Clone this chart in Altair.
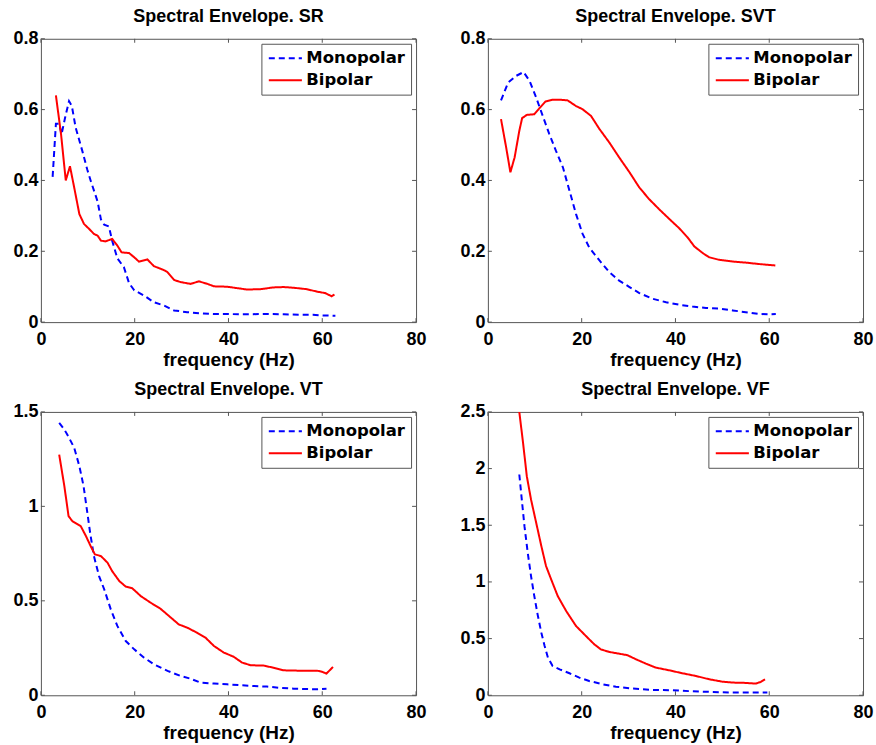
import altair as alt
import pandas as pd

# ---------------- data ----------------
SERIES = ["Monopolar", "Bipolar"]
COLORS = ["#0000ff", "#ff0000"]
X_TICKS = [0, 20, 40, 60, 80]

# SR
sr_mono_f = [2.5, 3.2, 3.9, 4.4, 5.2, 6.0, 6.6, 7.4, 8.9, 9.9, 10.6, 12.1, 12.8, 13.5, 14.5, 15.2, 16.3, 17.7,
             18.8, 19.9, 22.0, 24.1, 26.2, 28.4, 31.2, 34.0, 36.9, 39.7, 42.6, 48.2, 51.8, 55.3, 58.0, 59.6, 62.8]
sr_mono_v = [0.41, 0.56, 0.56, 0.53, 0.58, 0.624, 0.61, 0.55, 0.48, 0.43, 0.40, 0.34, 0.29, 0.275, 0.27, 0.23,
             0.18, 0.155, 0.11, 0.09, 0.075, 0.056, 0.047, 0.033, 0.028, 0.025, 0.023, 0.023, 0.022, 0.023, 0.022,
             0.021, 0.021, 0.019, 0.018]
sr_bi_f = [3.2, 4.3, 5.3, 6.2, 7.1, 8.2, 9.2, 10.3, 11.3, 12.1, 12.8, 13.8, 15.2, 16.3, 17.2, 18.8, 19.9, 20.9,
           22.7, 24.1, 26.2, 27.0, 28.4, 29.8, 31.9, 33.7, 35.5, 36.9, 39.7, 41.8, 44.0, 46.8, 49.6, 51.8, 53.9,
           56.7, 58.9, 60.6, 62.0, 62.6]
sr_bi_v = [0.64, 0.53, 0.40, 0.44, 0.38, 0.305, 0.277, 0.263, 0.249, 0.244, 0.23, 0.228, 0.235, 0.216, 0.197,
           0.195, 0.183, 0.171, 0.177, 0.158, 0.147, 0.141, 0.119, 0.113, 0.108, 0.115, 0.108, 0.101, 0.100,
           0.096, 0.092, 0.093, 0.098, 0.099, 0.097, 0.093, 0.086, 0.082, 0.073, 0.078]

# SVT
svt_mono_f = [2.8, 4.3, 6.0, 7.6, 8.9, 10.3, 11.7, 13.1, 14.5, 16.0, 17.4, 18.8, 20.2, 21.6, 23.8, 25.9, 28.0,
              30.2, 32.3, 35.1, 38.0, 40.8, 43.6, 46.5, 49.3, 52.2, 55.0, 57.8, 60.0, 61.4]
svt_mono_v = [0.626, 0.676, 0.695, 0.706, 0.681, 0.634, 0.582, 0.531, 0.484, 0.437, 0.371, 0.305, 0.249, 0.211,
              0.174, 0.141, 0.117, 0.099, 0.082, 0.066, 0.056, 0.049, 0.044, 0.040, 0.038, 0.033, 0.028, 0.023,
              0.022, 0.023]
svt_bi_f = [2.8, 3.9, 4.8, 5.7, 6.7, 7.3, 8.3, 9.9, 11.0, 12.3, 13.8, 15.3, 17.0, 18.8, 20.2, 22.0, 23.8, 25.9,
            28.0, 30.2, 32.3, 34.4, 36.5, 38.7, 40.8, 42.6, 44.0, 45.8, 47.2, 49.3, 52.2, 55.0, 57.8, 61.3]
svt_bi_v = [0.573, 0.493, 0.423, 0.465, 0.540, 0.576, 0.585, 0.587, 0.604, 0.623, 0.628, 0.628, 0.626, 0.610,
            0.601, 0.582, 0.545, 0.507, 0.465, 0.423, 0.380, 0.347, 0.319, 0.291, 0.265, 0.239, 0.214, 0.195,
            0.183, 0.176, 0.171, 0.168, 0.164, 0.160]

# VT
vt_mono_f = [3.9, 5.0, 6.0, 7.1, 8.2, 9.1, 9.8, 10.5, 11.3, 12.4, 13.5, 14.9, 16.3, 18.1, 19.9, 22.0, 24.1, 27.0,
             29.8, 31.9, 34.0, 36.9, 39.7, 42.6, 45.4, 48.2, 51.1, 53.9, 56.7, 58.9, 60.9]
vt_mono_v = [1.442, 1.407, 1.363, 1.310, 1.213, 1.107, 0.984, 0.860, 0.737, 0.631, 0.561, 0.455, 0.367, 0.287,
             0.243, 0.199, 0.164, 0.129, 0.102, 0.088, 0.067, 0.062, 0.058, 0.053, 0.049, 0.046, 0.039, 0.035,
             0.033, 0.032, 0.035]
vt_bi_f = [3.9, 5.0, 5.9, 6.7, 8.5, 9.6, 10.6, 11.5, 12.8, 14.2, 15.2, 16.7, 18.1, 19.5, 21.3, 23.4, 25.5, 27.3,
           29.4, 31.2, 33.3, 35.1, 36.9, 39.0, 41.1, 42.9, 44.7, 47.5, 49.6, 51.8, 55.3, 58.9, 59.9, 60.9, 62.3]
vt_bi_v = [1.274, 1.107, 0.948, 0.922, 0.895, 0.843, 0.790, 0.746, 0.737, 0.702, 0.657, 0.605, 0.575, 0.566,
           0.525, 0.490, 0.458, 0.420, 0.375, 0.358, 0.331, 0.305, 0.261, 0.226, 0.204, 0.173, 0.159, 0.157,
           0.146, 0.132, 0.130, 0.130, 0.125, 0.115, 0.150]

# VF
vf_mono_f = [6.7, 7.3, 7.8, 8.5, 9.2, 9.9, 10.6, 11.4, 12.1, 12.8, 13.8, 15.3, 17.4, 19.5, 21.6, 24.5, 27.3, 30.9,
             35.1, 39.4, 43.6, 47.9, 52.2, 56.4, 59.6]
vf_mono_v = [1.948, 1.698, 1.492, 1.257, 1.052, 0.875, 0.714, 0.552, 0.435, 0.332, 0.259, 0.229, 0.194, 0.156,
             0.126, 0.097, 0.076, 0.059, 0.047, 0.044, 0.035, 0.029, 0.024, 0.024, 0.024]
vf_bi_f = [6.7, 7.5, 8.3, 9.2, 10.3, 11.4, 12.4, 13.5, 14.9, 16.7, 18.8, 20.9, 22.7, 24.1, 25.9, 28.0, 29.8, 31.6,
           33.7, 35.8, 38.7, 41.5, 44.4, 47.2, 50.0, 52.2, 55.0, 57.1, 58.2, 59.1]
vf_bi_v = [2.50, 2.227, 1.933, 1.727, 1.522, 1.316, 1.140, 1.022, 0.875, 0.743, 0.611, 0.523, 0.449, 0.405, 0.382,
           0.367, 0.353, 0.317, 0.279, 0.244, 0.220, 0.194, 0.170, 0.141, 0.120, 0.112, 0.109, 0.103, 0.118, 0.141]

# ---------------- styling ----------------
FONT = "Liberation Sans"
LEG_FONT = "DejaVu Sans"
FRAME = "#555555"
W, H = 376, 284
TICK = 4
LABEL_EXPR = "datum.value + ''"


def panel(title, fm, vm, fb, vb, ymax, yticks):
    df = pd.DataFrame({
        "f": fm + fb,
        "v": vm + vb,
        "s": [SERIES[0]] * len(fm) + [SERIES[1]] * len(fb),
        "o": list(range(len(fm))) + list(range(len(fb))),
    })
    legend = alt.Legend(title=None, orient="top-right", offset=5)
    lines = alt.Chart(df).mark_line(strokeWidth=2, clip=True).encode(
        x=alt.X("f:Q", scale=alt.Scale(domain=[0, 80], nice=False, zero=False),
                axis=alt.Axis(values=X_TICKS, title="frequency (Hz)", labelExpr=LABEL_EXPR, labelFlush=False)),
        y=alt.Y("v:Q", scale=alt.Scale(domain=[0, ymax], nice=False, zero=False),
                axis=alt.Axis(values=yticks, title=None, labelExpr=LABEL_EXPR, labelFlush=False)),
        color=alt.Color("s:N", scale=alt.Scale(domain=SERIES, range=COLORS), legend=legend),
        strokeDash=alt.StrokeDash("s:N", scale=alt.Scale(domain=SERIES, range=[[6, 4], [1, 0]]), legend=legend),
        order="o:Q",
    )
    xt = pd.DataFrame({"f": X_TICKS})
    yt = pd.DataFrame({"v": yticks})
    xb = alt.Chart(xt).mark_rule(color=FRAME).encode(x="f:Q", y=alt.value(H), y2=alt.value(H - TICK))
    xtop = alt.Chart(xt).mark_rule(color=FRAME).encode(x="f:Q", y=alt.value(0), y2=alt.value(TICK))
    yl = alt.Chart(yt).mark_rule(color=FRAME).encode(y="v:Q", x=alt.value(0), x2=alt.value(TICK))
    yr = alt.Chart(yt).mark_rule(color=FRAME).encode(y="v:Q", x=alt.value(W - TICK), x2=alt.value(W))
    return alt.layer(xb, xtop, yl, yr, lines).properties(
        width=W, height=H, title=alt.TitleParams(title, anchor="middle")
    )


p1 = panel("Spectral Envelope. SR", sr_mono_f, sr_mono_v, sr_bi_f, sr_bi_v, 0.8, [0, 0.2, 0.4, 0.6, 0.8])
p2 = panel("Spectral Envelope. SVT", svt_mono_f, svt_mono_v, svt_bi_f, svt_bi_v, 0.8, [0, 0.2, 0.4, 0.6, 0.8])
p3 = panel("Spectral Envelope. VT", vt_mono_f, vt_mono_v, vt_bi_f, vt_bi_v, 1.5, [0, 0.5, 1, 1.5])
p4 = panel("Spectral Envelope. VF", vf_mono_f, vf_mono_v, vf_bi_f, vf_bi_v, 2.5, [0, 0.5, 1, 1.5, 2, 2.5])

chart = alt.concat(
    p1, p2, p3, p4, columns=2, spacing={"row": 90, "column": 72}, bounds="flush"
).resolve_scale(
    x="independent", y="independent", color="independent", strokeDash="independent"
).resolve_legend(
    color="independent", strokeDash="independent"
).properties(
    padding={"left": 12, "top": 6, "right": 2, "bottom": 6},
    background="white",
).configure_view(
    stroke=FRAME, strokeWidth=1
).configure_axis(
    labelFont=FONT, labelFontWeight="bold", labelFontSize=18, labelColor="black",
    titleFont=FONT, titleFontWeight="bold", titleFontSize=19, titleColor="black",
    domain=False, ticks=False, grid=False,
).configure_axisX(
    labelPadding=8, titlePadding=2,
).configure_axisY(
    labelPadding=3,
).configure_title(
    font=FONT, fontSize=18, fontWeight="bold", color="black", offset=4,
).configure_legend(
    labelFont=LEG_FONT, labelFontWeight="bold", labelFontSize=16.5, labelColor="black",
    strokeColor=FRAME, fillColor="white", padding=6, rowPadding=5, labelOffset=3,
    symbolType="stroke", symbolSize=1100, symbolStrokeWidth=2, cornerRadius=0, clipHeight=17,
)

chart.save("out.html", embed_options={"renderer": "svg", "actions": False})
